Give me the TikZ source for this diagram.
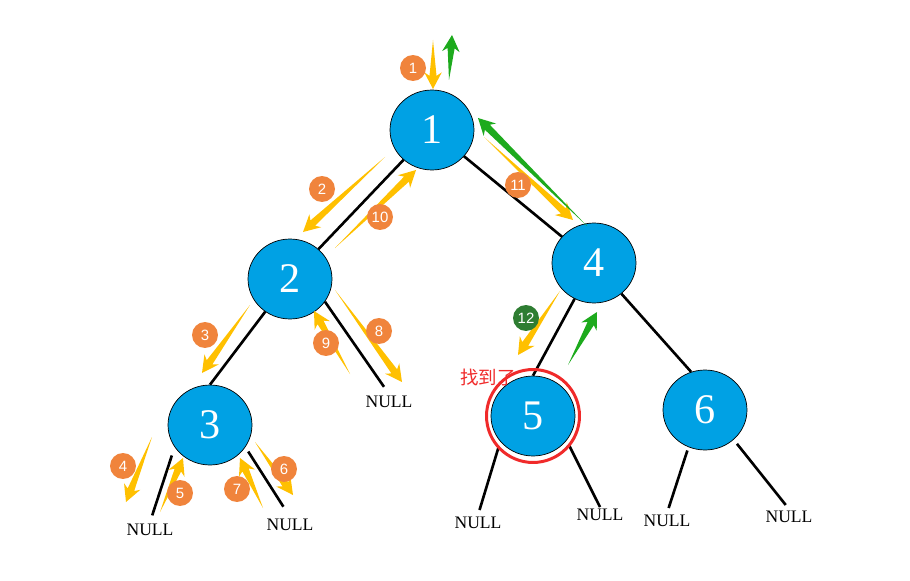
\documentclass[tikz,border=0pt]{standalone}
\usepackage{fontspec}
\setmainfont{Liberation Serif}
\newfontfamily\badgefont{Liberation Sans}
\newfontfamily\cjk{Noto Sans CJK SC}
\usetikzlibrary{shapes.geometric,calc}

\definecolor{nodeblue}{HTML}{00A1E4}
\definecolor{flowy}{HTML}{FFC000}
\definecolor{flowg}{HTML}{1DAA1D}
\definecolor{badgeor}{HTML}{F0843C}
\definecolor{badgegr}{HTML}{2E7D32}
\definecolor{foundred}{HTML}{F02A2A}

% tapered arrow: colour, tail coordinate, tip coordinate
\newcommand{\flow}[3]{%
  \fill[#1] (#2) -- ($(#3)!7.5pt!(#2)!2pt!90:(#2)$)
    -- ($(#3)!9.5pt!(#2)!5pt!90:(#2)$) -- (#3)
    -- ($(#3)!9.5pt!(#2)!5pt!-90:(#2)$)
    -- ($(#3)!7.5pt!(#2)!2pt!-90:(#2)$) -- cycle;}

\begin{document}
\begin{tikzpicture}[x=0.02cm,y=-0.02cm,
    tnode/.style={ellipse,draw,thin,fill=nodeblue,minimum width=1.68cm,
      minimum height=1.6cm,inner sep=0pt,text=white,font=\fontsize{24}{28}\selectfont},
    edge/.style={line width=1.5pt},
    nulltext/.style={font=\fontsize{10}{12}\selectfont,inner sep=1pt},
    badge/.style={circle,fill=badgeor,text=white,inner sep=0pt,
      minimum size=0.52cm,font=\badgefont\fontsize{8.5}{10}\selectfont}]
    \useasboundingbox (0,0) rectangle (910,581);

    % tree nodes
    \node[tnode] (n1) at (432,130) {1};
    \node[tnode] (n2) at (290,279) {2};
    \node[tnode] (n3) at (210,425) {3};
    \node[tnode] (n4) at (594,263) {4};
    \node[tnode] (n5) at (533,416) {5};
    \node[tnode] (n6) at (705,410) {6};

    % NULL leaves
    \node[nulltext] (nl2) at (389,402) {NULL};
    \node[nulltext] (nl3a) at (150,530) {NULL};
    \node[nulltext] (nl3b) at (290,525) {NULL};
    \node[nulltext] (nl5a) at (478,523) {NULL};
    \node[nulltext] (nl5b) at (600,515) {NULL};
    \node[nulltext] (nl6a) at (667,521) {NULL};
    \node[nulltext] (nl6b) at (789,517) {NULL};

    % edges
    \draw[edge] (n1) -- (n2);
    \draw[edge] (n1) -- (n4);
    \draw[edge] (n2) -- (n3.north);
    \draw[edge] (n4) -- (n5.north);
    \draw[edge] (n4) -- (n6.110);
    \draw[edge,shorten >=5pt] (n2.-33) -- (nl2.north);
    \draw[edge,shorten <=5pt,shorten >=4pt] (n3.212) -- (nl3a.north);
    \draw[edge,shorten <=3pt,shorten >=7pt] (n3.-32) -- (nl3b.north);
    \draw[edge,shorten <=3pt,shorten >=3pt] (n5.218) -- (nl5a.north);
    \draw[edge,shorten <=3pt] (n5.-36) -- (nl5b.north);
    \draw[edge,shorten <=2pt,shorten >=3pt] (n6.246) -- (nl6a.north);
    \draw[edge,shorten <=3pt,shorten >=3pt] (n6.-46) -- (nl6b.north);

    % found mark
    \node[circle,draw=foundred,line width=1.7pt,minimum size=1.86cm] (found) at (n5) {};
    \node[text=foundred,font=\cjk\fontsize{10.5}{12}\selectfont] (foundtxt) at (488,377) {找到了};

    % traversal arrows
    \foreach \nm/\c/\a/\b in {
        a1/flowy/{433,40}/{433,89},
        g1/flowg/{449,80}/{452,35},
        a2/flowy/{385,157}/{303,232},
        a10/flowy/{335,248}/{416,170},
        a11/flowy/{484,137}/{573,220},
        g2/flowg/{587,226}/{478,118},
        a3/flowy/{250,305}/{202,373},
        a9/flowy/{350,374}/{314,311},
        a8/flowy/{335,290}/{402,382},
        a4/flowy/{152,437}/{126,502},
        a5/flowy/{160,512}/{183,458},
        a7/flowy/{263,508}/{240,458},
        a6/flowy/{255,442}/{293,495},
        a12/flowy/{560,291}/{518,355},
        g3/flowg/{568,365}/{597,312}}
    {
        \coordinate (\nm s) at (\a);
        \coordinate (\nm e) at (\b);
        \flow{\c}{\nm s}{\nm e}
    }

    % step badges
    \foreach \t/\p in {1/{413,68},2/{322,189},3/{205,335},4/{123,466},5/{180,493},
        6/{284,469},7/{237,489},8/{379,331},9/{326,343},10/{380,217},11/{518,185}}
        \node[badge] (b\t) at (\p) {\t};
    \node[badge,fill=badgegr] (b12) at (526,318) {12};
\end{tikzpicture}
\end{document}
